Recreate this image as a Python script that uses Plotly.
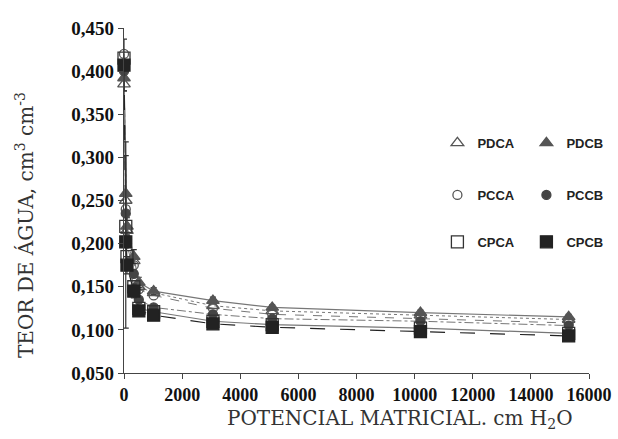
import plotly.graph_objects as go

# Matric potential (cm H2O)
potencial = [0, 61, 102, 337, 510, 1020, 3060, 5100, 10200, 15300]

# Water content (cm3 cm-3) per treatment
pdca = [0.385, 0.250, 0.215, 0.180, 0.150, 0.143, 0.128, 0.122, 0.117, 0.112]
pdcb = [0.392, 0.258, 0.220, 0.185, 0.155, 0.145, 0.134, 0.126, 0.120, 0.115]
pcca = [0.420, 0.240, 0.205, 0.175, 0.147, 0.140, 0.125, 0.118, 0.113, 0.108]
pccb = [0.400, 0.235, 0.200, 0.165, 0.135, 0.126, 0.118, 0.113, 0.110, 0.105]
cpca = [0.415, 0.220, 0.185, 0.150, 0.125, 0.121, 0.110, 0.106, 0.102, 0.096]
cpcb = [0.407, 0.202, 0.175, 0.145, 0.122, 0.117, 0.107, 0.103, 0.098, 0.093]

# error bars (standard deviation, estimated)
err_pdcb = [0.015, 0.060, 0.010, 0.008, 0.006, 0.004, 0.004, 0.003, 0.003, 0.003]
err_cpcb = [0.030, 0.100, 0.010, 0.008, 0.004, 0.003, 0.003, 0.003, 0.003, 0.003]

y_ticks = [0.05, 0.10, 0.15, 0.20, 0.25, 0.30, 0.35, 0.40, 0.45]
y_tick_labels = ["0,050", "0,100", "0,150", "0,200", "0,250", "0,300", "0,350", "0,400", "0,450"]
x_ticks = [0, 2000, 4000, 6000, 8000, 10000, 12000, 14000, 16000]
x_tick_labels = ["0", "2000", "4000", "6000", "8000", "10000", "12000", "14000", "16000"]

series = [
    ("PDCA", pdca, "triangle-up-open", "#555555", dict(color="#777777", width=1, dash="dot"), None, "legend"),
    ("PDCB", pdcb, "triangle-up", "#555555", dict(color="#777777", width=1.2), err_pdcb, "legend"),
    ("PCCA", pcca, "circle-open", "#555555", dict(color="#777777", width=1, dash="dash"), None, "legend2"),
    ("PCCB", pccb, "circle", "#444444", dict(color="#777777", width=1, dash="dashdot"), None, "legend2"),
    ("CPCA", cpca, "square-open", "#333333", dict(color="#777777", width=1.2), None, "legend3"),
    ("CPCB", cpcb, "square", "#222222", dict(color="#222222", width=1.2, dash="longdash"), err_cpcb, "legend3"),
]

fig = go.Figure()
# lines (no legend entry)
for name, vals, sym, mcol, line, err, leg in series:
    fig.add_trace(go.Scatter(x=potencial, y=vals, mode="lines", line=line,
                             showlegend=False, hoverinfo="skip"))
# markers (with legend entry)
for name, vals, sym, mcol, line, err, leg in series:
    msize = 11 if "triangle" in sym else (9 if "circle" in sym else 12)
    tr = go.Scatter(
        x=potencial, y=vals, name=name, mode="markers", cliponaxis=False,
        marker=dict(symbol=sym, size=msize, color=mcol, line=dict(color=mcol, width=1.3)),
        legend=leg,
    )
    if err is not None:
        tr.error_y = dict(type="data", array=err, visible=True, color="#333333", thickness=1.2, width=3)
    fig.add_trace(tr)

legend_common = dict(
    orientation="h", xanchor="left", yanchor="middle",
    font=dict(family="Liberation Sans", size=13, color="#222222", weight="bold"),
    bgcolor="rgba(0,0,0,0)", itemwidth=30, entrywidth=44, entrywidthmode="pixels",
    tracegroupgap=0,
)

fig.update_layout(
    width=618, height=439,
    margin=dict(l=124, r=29, t=28, b=66, autoexpand=False),
    paper_bgcolor="white", plot_bgcolor="white",
    showlegend=True,
    legend=dict(legend_common, x=0.674, y=0.667),
    legend2=dict(legend_common, x=0.674, y=0.516),
    legend3=dict(legend_common, x=0.674, y=0.380),
    xaxis=dict(
        range=[0, 16000], tickvals=x_ticks, ticktext=x_tick_labels,
        showgrid=False, zeroline=False, showline=True, linecolor="#444444", linewidth=1.2,
        ticks="outside", ticklen=5, tickcolor="#444444", automargin=False,
        tickfont=dict(family="Liberation Serif", size=18, color="#111111", weight="bold"),
    ),
    yaxis=dict(
        range=[0.05, 0.45], tickvals=y_ticks, ticktext=y_tick_labels,
        showgrid=False, zeroline=False, showline=True, linecolor="#444444", linewidth=1.2,
        ticks="outside", ticklen=5, tickcolor="#444444", automargin=False,
        tickfont=dict(family="Liberation Serif", size=19, color="#111111", weight="bold"),
    ),
    annotations=[
        dict(text="POTENCIAL MATRICIAL. cm H<sub>2</sub>O", xref="paper", yref="paper",
             x=(400 - 124) / 465, y=-(419 - 373) / 345, xanchor="center", yanchor="middle",
             showarrow=False, font=dict(family="DejaVu Serif", size=20, color="#333333")),
        dict(text="TEOR DE ÁGUA, cm<sup>3</sup> cm<sup>-3</sup>", xref="paper", yref="paper",
             x=-(124 - 25) / 465, y=(373 - 225) / 345, xanchor="center", yanchor="middle",
             textangle=-90, showarrow=False,
             font=dict(family="DejaVu Serif", size=20, color="#333333")),
    ],
)

fig.write_html("out.html", config={"displayModeBar": False},
               post_script="document.body.style.margin='0';")
